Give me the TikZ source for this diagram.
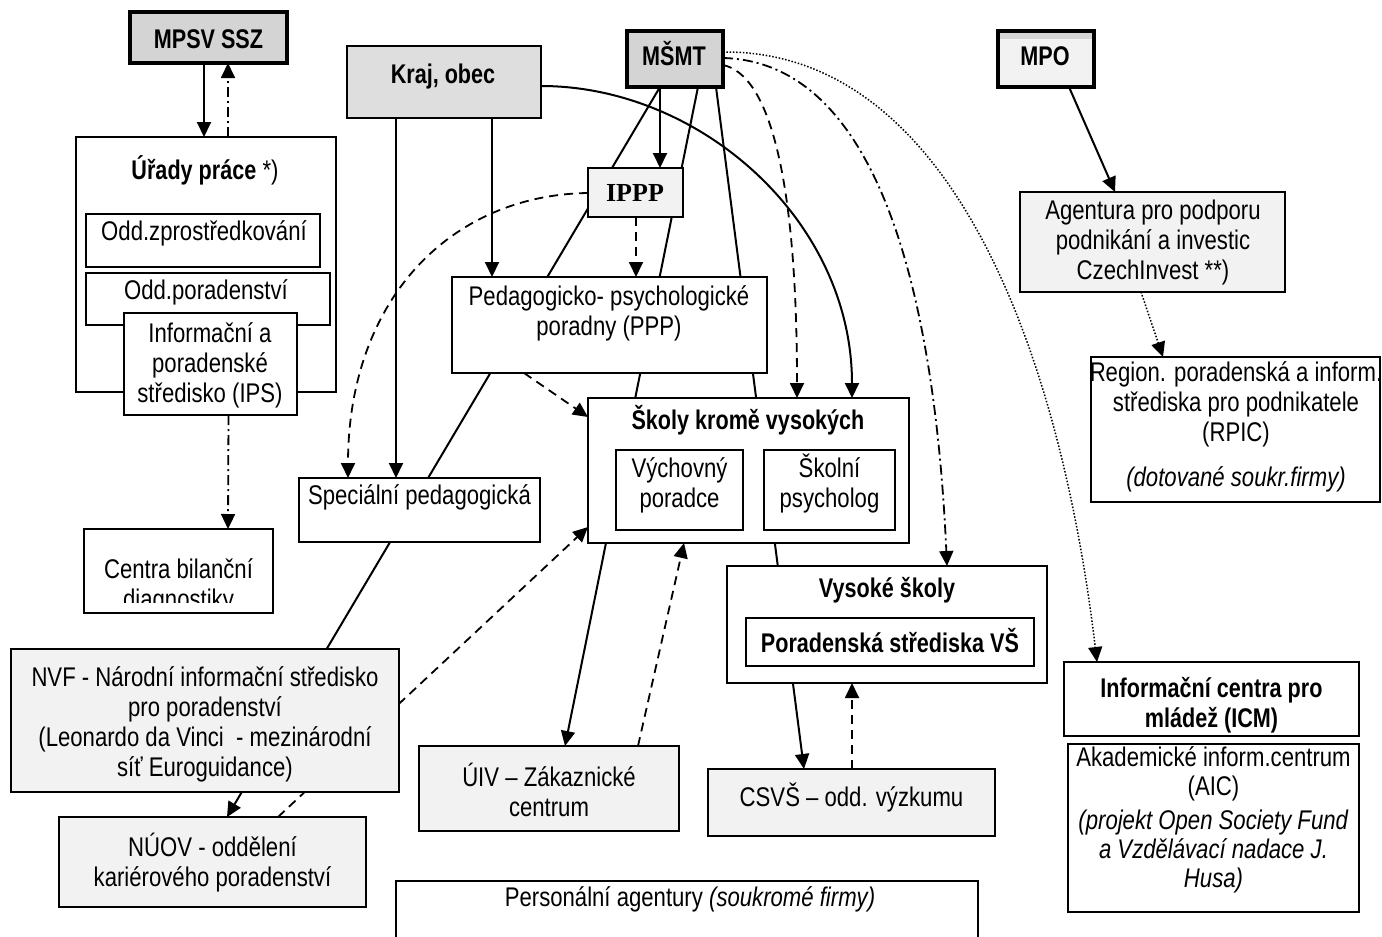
\documentclass[tikz,border=0pt]{standalone}
\usepackage{fontspec}
\setmainfont{Liberation Sans}[FakeStretch=0.82,BoldFeatures={FakeStretch=0.80}]
\newfontfamily\ipppfont{Liberation Serif}
\usetikzlibrary{arrows.meta}
\pgfdeclarelayer{bg}
\pgfsetlayers{bg,main}
\definecolor{gmid}{HTML}{D4D4D4}
\definecolor{gkraj}{HTML}{DEDEDE}
\definecolor{glight}{HTML}{F2F2F2}
\newcommand\st{\rule[-5pt]{0pt}{30pt}}
\newcommand\fsz{\fontsize{27}{30}\selectfont\lineskiplimit=-100pt\relax}
\newcommand\fszb{\fontsize{27}{29}\selectfont\lineskiplimit=-100pt\relax}
\newcommand\fszi{\fontsize{26}{30}\selectfont\lineskiplimit=-100pt\relax}
\newcommand\bx[6][]{\node[box,#1,minimum width={#5-#3},minimum height={#6-#4}] (#2) at ({(#3+#5)/2},{(#4+#6)/2}) {};}
\newcommand\tx[4][]{\node[txt,#1] (#2) at (#3) {#4};}
\begin{document}
\begin{tikzpicture}[x=1pt,y=-1pt,
  box/.style={draw,rectangle,line width=2pt,fill=white,inner sep=0pt,outer sep=0pt},
  heavy/.style={line width=3.6pt},
  txt/.style={inner sep=0pt,align=center,font=\fsz},
  btxt/.style={inner sep=0pt,align=center,font=\fsz\bfseries},
  sol/.style={line width=2pt},
  arr/.style={-{Triangle[length=15pt,width=14pt]}},
  dsh/.style={line width=1.8pt,dash pattern=on 9pt off 6pt},
  dshdot/.style={line width=1.8pt,dash pattern=on 10pt off 4pt on 2pt off 4pt},
  dotl/.style={line width=1.5pt,dash pattern=on 1.5pt off 1.8pt}]
\useasboundingbox (0,0) rectangle (1382,937);
% boxes
\bx[fill=gmid,heavy]{mpsv}{130}{12}{287}{63}
\bx[fill=gkraj]{kraj}{347}{46}{541}{118}
\bx[fill=gmid,heavy]{msmt}{627}{31}{723}{87}
\bx[fill=glight,heavy]{mpo}{998}{31}{1094}{87}
\fill[gmid] (1000,33) rectangle (1092,39);
\bx{urady}{76}{137}{336}{392}
\bx{oddz}{86}{214}{320}{267}
\bx{oddp}{86}{273}{330}{325}
\bx{ips}{124}{313}{297}{415}
\bx{centra}{84}{529}{273}{613}
\bx[fill=glight]{ippp}{588}{168}{683}{217}
\bx{ppp}{452}{277}{767}{373}
\bx{spec}{299}{478}{540}{542}
\bx[line width=2.4pt]{skoly}{588}{398}{909}{543}
\bx{vych}{616}{450}{743}{530}
\bx{skpsy}{764}{450}{895}{530}
\bx[line width=2.4pt]{vysoke}{727}{566}{1047}{683}
\bx{porvs}{746}{618}{1034}{666}
\bx[fill=glight]{nvf}{11}{649}{399}{792}
\bx[fill=glight]{nuov}{59}{817}{366}{907}
\bx[fill=glight]{uiv}{419}{746}{679}{831}
\bx[fill=glight]{csvs}{708}{769}{995}{836}
\bx{pers}{396}{881}{978}{960}
\bx[fill=glight]{agent}{1020}{192}{1285}{292}
\bx{rpic}{1091}{357}{1380}{502}
\bx[line width=2.4pt]{icm}{1064}{662}{1359}{736}
\bx[line width=1.6pt]{aic}{1068}{744}{1359}{912}
% texts
\tx[btxt]{tmpsv}{208.5,38}{\st MPSV SSZ}
\tx[btxt]{tkraj}{443,74}{\st Kraj, obec}
\tx[btxt]{tmsmt}{674,55}{\st MŠMT}
\tx[btxt]{tmpo}{1045,55}{\st MPO}
\tx{turady}{205,170}{\st\textbf{Úřady práce} *)}
\tx{toddz}{204,231}{\st Odd.zprostředkování}
\tx{toddp}{206,290}{\st Odd.poradenství}
\tx{tips}{210,362.5}{\st Informační a\\\st poradenské\\\st středisko (IPS)}
\begin{scope}
\clip (84,529) rectangle (273,602);
\tx{tcentra}{178.5,584}{\st Centra bilanční\\\st diagnostiky}
\end{scope}
\tx[font=\fszi\ipppfont\bfseries]{tippp}{635,191}{\st IPPP}
\tx{tppp}{609,310.5}{\st Pedagogicko- psychologické\\\st poradny (PPP)}
\tx{tspec}{419.5,495}{\st Speciální pedagogická}
\tx[btxt]{tskoly}{748,420}{\st Školy kromě vysokých}
\tx{tvych}{679.5,483}{\st Výchovný\\\st poradce}
\tx{tskpsy}{829.5,483}{\st Školní\\\st psycholog}
\tx[btxt]{tvysoke}{887,588}{\st Vysoké školy}
\tx[btxt]{tporvs}{890,642}{\st Poradenská střediska VŠ}
\tx{tnvf}{205,722}{\st NVF - Národní informační středisko\\\st pro poradenství\\\st (Leonardo da Vinci\ \ - mezinárodní\\\st síť Euroguidance)}
\tx{tnuov}{212.5,862}{\st NÚOV - oddělení\\\st kariérového poradenství}
\tx{tuiv}{549,791}{\st ÚIV – Zákaznické\\\st centrum}
\tx{tcsvs}{851.5,797}{\st CSVŠ – odd. výzkumu}
\tx{tpers}{690,897}{\st Personální agentury \textit{(soukromé firmy)}}
\tx{tagent}{1153,239.5}{\st Agentura pro podporu\\\st podnikání a investic\\\st CzechInvest **)}
\tx{trpic}{1236,424.5}{\st Region. poradenská a inform.\\\st střediska pro podnikatele\\\st (RPIC)\\[15pt]\st\textit{(dotované soukr.firmy)}}
\tx[btxt]{ticm}{1211.5,702.5}{\st Informační centra pro\\\st mládež (ICM)}
\tx[font=\fszb]{taic}{1213.5,817.5}{\st Akademické inform.centrum\\\st (AIC)\\[5pt]\st\textit{(projekt Open Society Fund}\\\st\textit{a Vzdělávací nadace J.}\\\st\textit{Husa)}}
% connectors
\begin{pgfonlayer}{bg}
\draw[sol,arr] ([xshift=-4.5pt]mpsv.south) -- ([xshift=-2pt]urady.north);
\draw[dshdot,arr] ([xshift=22pt]urady.north) -- ([xshift=19.5pt]mpsv.south);
\draw[dshdot,arr] ([xshift=18pt]ips.south) -- ([xshift=49.5pt]centra.north);
\draw[sol,arr] ([xshift=-48pt]kraj.south) -- ([xshift=-23.5pt]spec.north);
\draw[sol,arr] ([xshift=48pt]kraj.south) -- ([xshift=-117.5pt]ppp.north);
\draw[sol,arr] ([yshift=-4pt]kraj.east) .. controls (700,86) and (852,220) .. ([xshift=103.5pt]skoly.north);
\draw[sol,arr] ([xshift=-15pt]msmt.south) -- ([xshift=24.5pt]ippp.north);
\draw[sol,arr] ([xshift=-15pt]msmt.south) -- ([xshift=14.5pt]nuov.north);
\draw[sol,arr] ([xshift=23pt]msmt.south) -- ([xshift=16pt]uiv.north);
\draw[sol,arr] ([xshift=41pt]msmt.south) -- ([xshift=-47.5pt]csvs.north);
\draw[dsh,arr] ([xshift=0.5pt]ippp.south) -- ([xshift=26.5pt]ppp.north);
\draw[dsh,arr] ([yshift=-0.5pt]ippp.west) .. controls (450,195) and (348,300) .. ([xshift=-71.5pt]spec.north);
\draw[dsh,arr] ([xshift=-85.5pt]ppp.south) -- ([yshift=53.5pt]skoly.west);
\draw[dsh,arr] ([xshift=65.5pt]nuov.north) -- ([yshift=-56.5pt]skoly.west);
\draw[dsh,arr] ([xshift=89pt]uiv.north) -- ([xshift=-64.5pt]skoly.south);
\draw[dsh,arr] ([yshift=-6pt]msmt.east) .. controls (770,75) and (797,180) .. ([xshift=48.5pt]skoly.north);
\draw[dshdot,arr] ([yshift=1pt]msmt.east) .. controls (880,62) and (935,300) .. ([xshift=60pt]vysoke.north);
\draw[dotl,arr] ([yshift=7pt]msmt.east) .. controls (950,50) and (1060,350) .. ([xshift=-114.5pt]icm.north);
\draw[dsh,arr] ([xshift=0.5pt]csvs.north) -- ([xshift=-35pt]vysoke.south);
\draw[sol,arr] ([xshift=23pt]mpo.south) -- ([xshift=-37.5pt]agent.north);
\draw[dotl,arr] ([xshift=-11.5pt]agent.south) -- ([xshift=-72.5pt]rpic.north);
\end{pgfonlayer}
\end{tikzpicture}
\end{document}
